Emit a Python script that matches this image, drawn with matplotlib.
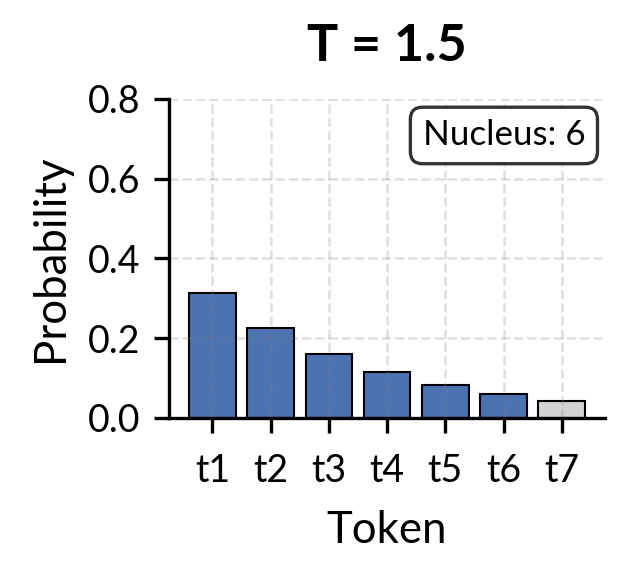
import matplotlib
matplotlib.use("Agg")
import matplotlib.pyplot as plt

tokens = ["t1", "t2", "t3", "t4", "t5", "t6", "t7"]
probs = [0.314, 0.226, 0.160, 0.116, 0.083, 0.060, 0.043]
nucleus_size = 6
temperature = 1.5

plt.rcParams["font.family"] = ["Lato", "DejaVu Sans"]

fig, ax = plt.subplots(figsize=(634 / 300, 574 / 300), dpi=300)
fig.subplots_adjust(left=0.267, right=0.954, bottom=0.272, top=0.828)

colors = ["#4c72b0" if i < nucleus_size else "#d3d3d3" for i in range(len(tokens))]
ax.bar(tokens, probs, color=colors, edgecolor="black", linewidth=0.5)

ax.set_ylim(0, 0.8)
ax.set_yticks([0.0, 0.2, 0.4, 0.6, 0.8])
ax.set_title(f"T = {temperature}", fontsize=12.5, fontweight="bold", pad=9)
ax.set_xlabel("Token", fontsize=10.5, labelpad=5)
ax.set_ylabel("Probability", fontsize=10.5, labelpad=4)
ax.tick_params(labelsize=9)
ax.tick_params(axis="x", pad=5)
ax.grid(True, linestyle="--", color="gray", alpha=0.25, linewidth=0.6)
ax.spines["top"].set_visible(False)
ax.spines["right"].set_visible(False)

ax.text(0.955, 0.935, f"Nucleus: {nucleus_size}", transform=ax.transAxes,
        ha="right", va="top", fontsize=8.4,
        bbox=dict(boxstyle="round,pad=0.35", facecolor="white", edgecolor="#333333", linewidth=0.8))

fig.savefig("out.png", dpi=300)
